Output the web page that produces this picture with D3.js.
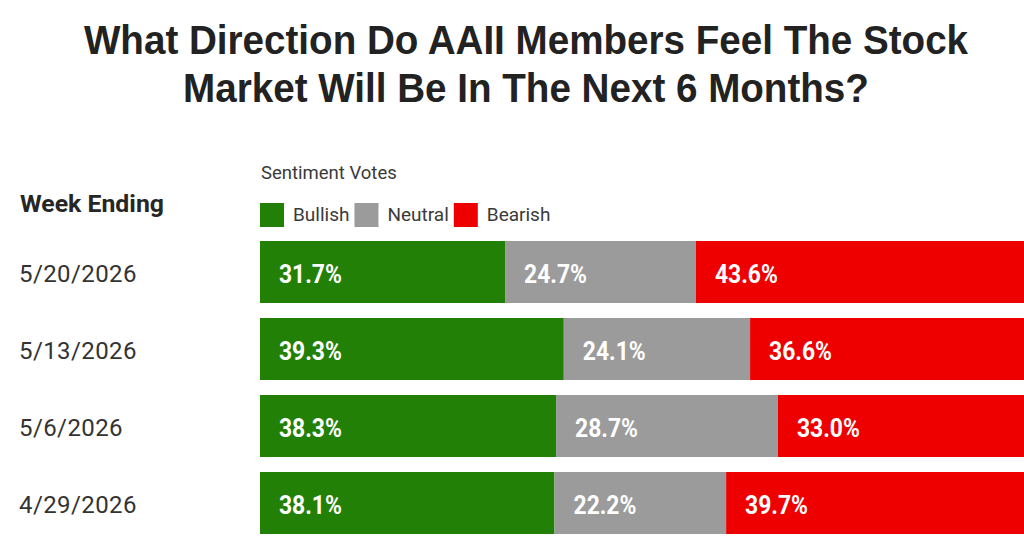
<!DOCTYPE html>
<html><head><meta charset="utf-8">
<script src="https://cdn.jsdelivr.net/npm/d3@7"></script>
<style>body{margin:0;background:#fff;} svg{display:block;}</style>
</head><body>
<script>
const weeks = ["5/20/2026", "5/13/2026", "5/6/2026", "4/29/2026"];
const seriesNames = ["Bullish", "Neutral", "Bearish"];
const bullish = [31.7, 39.3, 38.3, 38.1];
const neutral = [24.7, 24.1, 28.7, 22.2];
const bearish = [43.6, 36.6, 33.0, 39.7];
const colors = ["#228006", "#9b9b9b", "#ef0000"];
const titleLines = ["What Direction Do AAII Members Feel The Stock", "Market Will Be In The Next 6 Months?"];

const W = 1024, H = 542;
const svg = d3.select("body").append("svg").attr("width", W).attr("height", H);

const rows = weeks.map((w, i) => ({week: w, Bullish: bullish[i], Neutral: neutral[i], Bearish: bearish[i]}));
const stack = d3.stack().keys(seriesNames)(rows);

const x = d3.scaleLinear().domain([0, 100]).range([260, 1033]);
const y = d3.scaleBand().domain(weeks).range([241, 534]).paddingInner(0.195).paddingOuter(0);
const color = d3.scaleOrdinal().domain(seriesNames).range(colors);

// title
svg.selectAll("text.title").data(titleLines).join("text")
  .attr("class", "title")
  .attr("transform", (d, i) => `translate(526,${54 + i * 48}) scale(0.965,1)`)
  .attr("text-anchor", "middle")
  .attr("font-family", "Liberation Sans, Arial, sans-serif")
  .attr("font-weight", "bold").attr("font-size", 40)
  .attr("fill", "#222")
  .text(d => d);

// headers
svg.append("text").attr("x", 20).attr("y", 212)
  .attr("font-family", "Roboto, sans-serif").attr("font-weight", "bold").attr("font-size", 24.8)
  .attr("fill", "#262626").text("Week Ending");
svg.append("text").attr("x", 261).attr("y", 179)
  .attr("font-family", "Roboto, sans-serif").attr("font-size", 18.5)
  .attr("fill", "#3a3a3a").text("Sentiment Votes");

// legend
let lx = 260;
seriesNames.forEach(name => {
  const g = svg.append("g").attr("transform", `translate(${lx},203)`);
  g.append("rect").attr("width", 24).attr("height", 24).attr("fill", color(name));
  const t = g.append("text").attr("x", 33).attr("y", 18)
    .attr("font-family", "Roboto, sans-serif").attr("font-size", 19).attr("fill", "#3a3a3a")
    .text(name);
  lx += 33 + t.node().getComputedTextLength() + 5;
});

// y labels
svg.selectAll("text.week").data(weeks).join("text").attr("class", "week")
  .attr("x", 19).attr("y", d => y(d) + y.bandwidth() / 2 + 10)
  .attr("font-family", "Roboto, sans-serif").attr("font-size", 24).attr("fill", "#333")
  .attr("letter-spacing", 0.4)
  .text(d => d);

// bars
const layers = svg.selectAll("g.layer").data(stack).join("g").attr("class", "layer")
  .attr("fill", d => color(d.key));
layers.selectAll("rect").data(d => d).join("rect")
  .attr("x", d => x(d[0])).attr("width", d => x(d[1]) - x(d[0]))
  .attr("y", d => y(d.data.week)).attr("height", y.bandwidth());

// value labels
const labels = svg.selectAll("g.lbl").data(stack).join("g").attr("class", "lbl");
labels.selectAll("text").data(d => d.map(v => ({v, key: d.key}))).join("text")
  .attr("transform", d => `translate(${x(d.v[0]) + 19},${y(d.v.data.week) + y.bandwidth() / 2 + 11}) scale(0.88,1)`)
  .attr("font-family", "Roboto, sans-serif").attr("font-weight", "bold").attr("font-size", 26)
  .attr("fill", "#fff")
  .text(d => d.v.data[d.key].toFixed(1) + "%");
</script>
</body></html>
